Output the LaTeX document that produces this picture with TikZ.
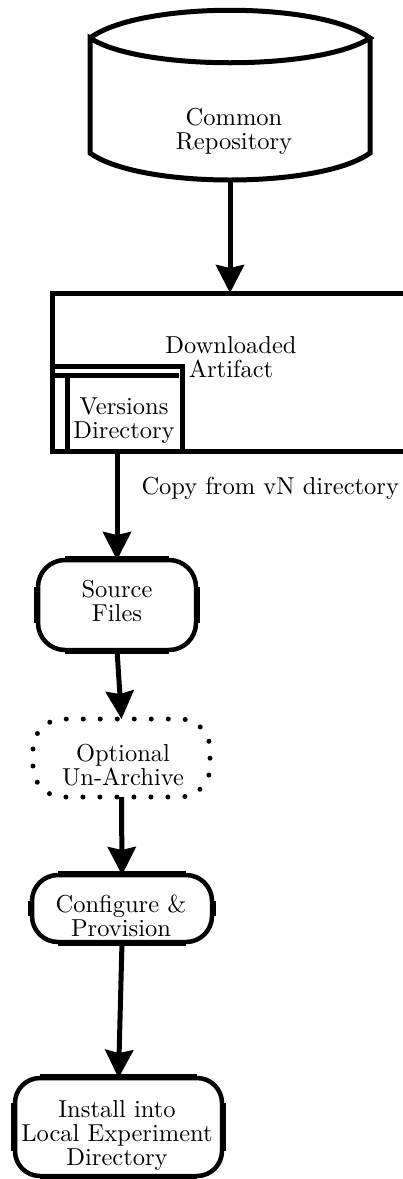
\documentclass[tikz,border=0pt]{standalone}
\usepackage{fontspec}
\setmainfont{lmroman10-regular.otf}
\usetikzlibrary{arrows.meta,calc}
\tikzset{
  shp/.style={draw=none,inner sep=0pt,outer sep=0pt},
  txt/.style={align=center,font=\fontsize{24.5}{24}\selectfont,inner sep=0pt},
  ln/.style={line width=5pt,line join=miter},
  arr/.style={line width=5pt,-{Stealth[length=28pt,width=28pt,inset=3pt]}},
  dots/.style={line width=5pt,line cap=round,dash pattern=on 0pt off 17pt}
}
\newcommand\myrbox[2]{%
  \draw[line width=4.5pt,rounded corners=#2pt] (#1.north west) rectangle (#1.south east);
  \draw[line width=5.5pt] ($(#1.north west)+(#2,-1)$) -- ($(#1.north east)+(-#2,-1)$);
  \draw[line width=5.5pt] ($(#1.south west)+(#2,1)$) -- ($(#1.south east)+(-#2,1)$);
  \draw[line width=5.5pt] ($(#1.north west)+(-1,#2)$) -- ($(#1.south west)+(-1,-#2)$);
  \draw[line width=5.5pt] ($(#1.north east)+(1,#2)$) -- ($(#1.south east)+(1,-#2)$);
}
\begin{document}
\begin{tikzpicture}[x=1pt,y=-1pt]
\useasboundingbox (0,0) rectangle (402,1179);
\fill[white] (0,0) rectangle (402,1179);

% shape nodes
\node[shp,minimum width=280pt,minimum height=174pt] (repo) at (230,95) {};
\node[shp,minimum width=356pt,minimum height=158pt] (art) at (230,372) {};
\node[shp,minimum width=130pt,minimum height=85pt] (ver) at (117,408.5) {};
\node[shp,minimum width=158pt,minimum height=90pt] (src) at (117,605) {};
\node[shp,minimum width=177pt,minimum height=78pt] (opt) at (121.5,758) {};
\node[shp,minimum width=180pt,minimum height=67pt] (cfg) at (122,908.5) {};
\node[shp,minimum width=207pt,minimum height=98pt] (inst) at (118.5,1127) {};

% cylinder
\draw[ln] (90,38) .. controls (140,1) and (320,1) .. (370,38)
  .. controls (320,71) and (140,71) .. (90,38) -- (90,153)
  .. controls (140,189) and (320,189) .. (370,153) -- (370,38);

% downloaded artifact
\draw[ln] (art.north west) rectangle (art.south east);
% versions directory
\draw[ln] (ver.north west) rectangle (ver.south east);
\draw[ln] ($(ver.north west)+(0,9)$) -- ($(ver.north east)+(-3,9)$);
\draw[ln] ($(ver.north west)+(15,9)$) -- ($(ver.south west)+(15,0)$);

% rounded boxes
\myrbox{src}{27}
\myrbox{cfg}{26}
\myrbox{inst}{25}
\draw[dots,rounded corners=30pt] (opt.north west) rectangle (opt.south east);

% texts
\node[txt] (repoT) at (234,131) {Common\\Repository};
\node[txt] (artT) at (231,357) {Downloaded\\Artifact};
\node[txt] (verT) at (124,421) {Versions\\Directory};
\node[txt] (srcT) at (117,601) {Source\\Files};
\node[txt] (optT) at (123,765) {Optional\\Un-Archive};
\node[txt] (cfgT) at (121,916) {Configure \&\\Provision};
\node[txt] (instT) at (117,1135) {Install into\\Local Experiment\\Directory};

% connectors
\draw[arr] (repo.south) -- (art.north);
\draw[arr] (ver.south) -- node[txt,pos=0.34,anchor=west,xshift=22pt] (copyL) {Copy from vN directory} (src.north);
\draw[arr] (src.south) -- (opt.north);
\draw[arr] (opt.south) -- (cfg.north);
\draw[arr] (cfg.south) -- (inst.north);
\end{tikzpicture}
\end{document}
